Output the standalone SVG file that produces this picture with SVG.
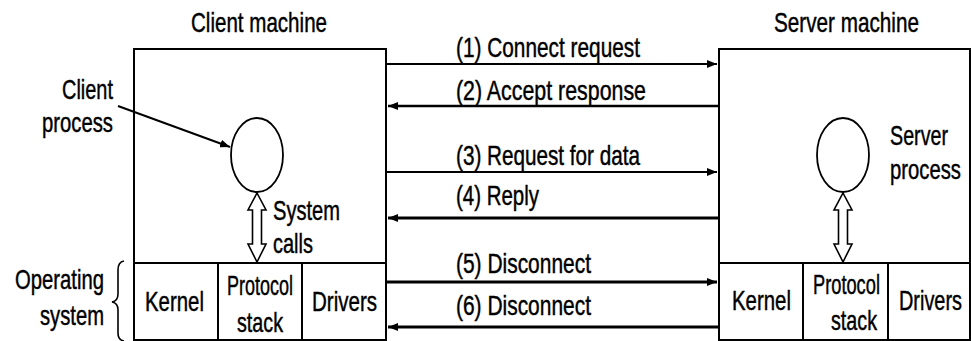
<svg xmlns="http://www.w3.org/2000/svg" width="971" height="341" viewBox="0 0 971 341">
  <style>
    text { font-family: "Liberation Sans", Arial, sans-serif; font-size: 28px; fill: #000; stroke: #000; stroke-width: 0.45px; }
    .box { fill: none; stroke: #000; stroke-width: 2; }
    .proc { fill: none; stroke: #000; stroke-width: 1.8; }
    .msg { stroke: #000; fill: none; }
    .dbl { fill: #fff; stroke: #000; stroke-width: 1.6; stroke-linejoin: miter; }
  </style>
  <defs>
    <marker id="head" viewBox="0 0 10 8" refX="10" refY="4" markerWidth="10" markerHeight="8" markerUnits="userSpaceOnUse" orient="auto">
      <path d="M0,0 L10,4 L0,8 Z" fill="#000"/>
    </marker>
    <!-- hollow two-way arrow for system calls, drawn at origin pointing down -->
    <path id="dblArrow" class="dbl" d="M0,0 L9,17 L4.5,17 L4.5,51 L9,51 L0,69 L-9,51 L-4.5,51 L-4.5,17 L-9,17 Z"/>
  </defs>
  <rect width="971" height="341" fill="#fff"/>

  <!-- client machine -->
  <g id="client">
    <text x="191" y="32" textLength="136" lengthAdjust="spacingAndGlyphs">Client machine</text>
    <rect class="box" x="134" y="49" width="252" height="291"/>
    <line class="box" x1="134" y1="263" x2="386" y2="263"/>
    <line class="box" x1="218" y1="263" x2="218" y2="340"/>
    <line class="box" x1="302" y1="263" x2="302" y2="340"/>
    <ellipse class="proc" cx="257" cy="155" rx="26" ry="37"/>
    <use href="#dblArrow" x="257" y="193"/>
    <text x="273" y="220" textLength="67" lengthAdjust="spacingAndGlyphs">System</text>
    <text x="273" y="253" textLength="40" lengthAdjust="spacingAndGlyphs">calls</text>
    <text x="145" y="311" textLength="59" lengthAdjust="spacingAndGlyphs">Kernel</text>
    <text transform="translate(227,295) scale(0.643,1)">Protocol</text>
    <text x="237" y="332" textLength="46" lengthAdjust="spacingAndGlyphs">stack</text>
    <text x="312" y="311" textLength="65" lengthAdjust="spacingAndGlyphs">Drivers</text>
  </g>

  <!-- client process label with pointer -->
  <g id="client-process-label">
    <text x="62" y="99" textLength="51" lengthAdjust="spacingAndGlyphs">Client</text>
    <text x="42" y="132" textLength="71" lengthAdjust="spacingAndGlyphs">process</text>
    <line x1="118" y1="106" x2="230" y2="147" stroke="#000" stroke-width="2" marker-end="url(#head)"/>
  </g>

  <!-- operating system brace label -->
  <g id="os-label">
    <text x="15" y="289" textLength="89" lengthAdjust="spacingAndGlyphs">Operating</text>
    <text x="40" y="325" textLength="64" lengthAdjust="spacingAndGlyphs">system</text>
    <path d="M124,261 Q118,262 118,270 L118,294 Q118,301 112,302 Q118,303 118,310 L118,333 Q118,340 124,341" fill="none" stroke="#000" stroke-width="1.6"/>
  </g>

  <!-- server machine -->
  <g id="server">
    <text x="774" y="32" textLength="145" lengthAdjust="spacingAndGlyphs">Server machine</text>
    <rect class="box" x="719" y="49" width="251" height="291"/>
    <line class="box" x1="719" y1="263" x2="970" y2="263"/>
    <line class="box" x1="803" y1="263" x2="803" y2="340"/>
    <line class="box" x1="888" y1="263" x2="888" y2="340"/>
    <ellipse class="proc" cx="843" cy="155" rx="26" ry="37"/>
    <use href="#dblArrow" x="843" y="193"/>
    <text x="890" y="145" textLength="58" lengthAdjust="spacingAndGlyphs">Server</text>
    <text transform="translate(890,179) scale(0.724,1)">process</text>
    <text x="732" y="310" textLength="59" lengthAdjust="spacingAndGlyphs">Kernel</text>
    <text transform="translate(813,294) scale(0.652,1)">Protocol</text>
    <text x="831" y="330" textLength="46" lengthAdjust="spacingAndGlyphs">stack</text>
    <text transform="translate(899,310) scale(0.711,1)">Drivers</text>
  </g>

  <!-- messages between the machines -->
  <g id="connectors">
    <line class="msg" x1="386" y1="64" x2="717" y2="64" stroke-width="2.2" marker-end="url(#head)"/>
    <line class="msg" x1="719" y1="106" x2="388" y2="106" stroke-width="2.6" marker-end="url(#head)"/>
    <line class="msg" x1="386" y1="172" x2="717" y2="172" stroke-width="2.2" marker-end="url(#head)"/>
    <line class="msg" x1="719" y1="218" x2="388" y2="218" stroke-width="3" marker-end="url(#head)"/>
    <line class="msg" x1="386" y1="282" x2="717" y2="282" stroke-width="3" marker-end="url(#head)"/>
    <line class="msg" x1="719" y1="327" x2="388" y2="327" stroke-width="3" marker-end="url(#head)"/>
  </g>

  <g id="message-labels">
    <text x="456" y="57" textLength="184" lengthAdjust="spacingAndGlyphs">(1) Connect request</text>
    <text x="456" y="100" textLength="190" lengthAdjust="spacingAndGlyphs">(2) Accept response</text>
    <text x="456" y="165" textLength="184" lengthAdjust="spacingAndGlyphs">(3) Request for data</text>
    <text x="456" y="205" textLength="83" lengthAdjust="spacingAndGlyphs">(4) Reply</text>
    <text x="456" y="273" textLength="135" lengthAdjust="spacingAndGlyphs">(5) Disconnect</text>
    <text x="456" y="315" textLength="135" lengthAdjust="spacingAndGlyphs">(6) Disconnect</text>
  </g>
</svg>
